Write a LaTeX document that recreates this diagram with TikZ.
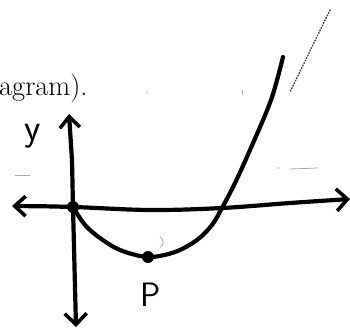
\documentclass[tikz,border=0pt]{standalone}
\usetikzlibrary{arrows.meta}
\begin{document}
\begin{tikzpicture}[x=1bp,y=-1bp,
  ink/.style={line width=4.2bp,line cap=round,line join=round},
  dbarb/.style={{Straight Barb[length=11bp,width=20bp,line width=3.6bp]}-{Straight Barb[length=11bp,width=22bp,line width=3.6bp]}},
  noise/.style={gray!70,line width=0.8bp,line cap=round},
  dotmark/.style={circle,fill=black,inner sep=0pt,minimum size=12bp},
  hand/.style={font=\sffamily\fontsize{38}{40}\selectfont,inner sep=0pt}]
\useasboundingbox (0,0) rectangle (350,331);
% printed text (cut at left edge)
\node[anchor=base west,inner sep=0pt,font=\fontsize{28.5}{32}\selectfont] (txt) at (-1,95) {agram).};
% coordinates
\coordinate (O) at (73,207);
\coordinate (ytop) at (69,114);
\coordinate (ybot) at (76,327);
\coordinate (xleft) at (12,206);
\coordinate (xright) at (350,199);
\coordinate (root) at (222,208);
\coordinate (top) at (283,57);
% y-axis
\draw[ink,dbarb] (ytop) -- (72,160) -- (O) -- (ybot);
% x-axis
\draw[ink,dbarb] plot[smooth,tension=0.6] coordinates {(xleft) (O) (150,210) (root) (290,203) (xright)};
% parabola
\draw[ink] plot[smooth,tension=0.55] coordinates {(O) (85,225) (100,238) (120,250) (148,257) (175,252) (197,240) (212,225) (root) (235,183) (250,150) (271,100) (top)};
% dots
\node[dotmark] (Odot) at (O) {};
\node[dotmark] (Pdot) at (148,257) {};
% labels
\node[hand] (ylab) at (33,136) {y};
\node[hand,font=\sffamily\fontsize{34}{36}\selectfont] (plab) at (151,295) {P};
% faint scan marks
\draw[noise,gray!40!black,dotted,line width=1.4bp] (330,10) -- (290,92);
\draw[noise] (242,90) -- (243,95);
\draw[noise] (147,92) -- (147.5,93);
\draw[noise] (277,168) -- (280,168) (290,169) -- (318,168);
\draw[noise] (160,237) arc[start angle=-60,end angle=60,radius=6];
\draw[noise] (15,175) -- (30,175);
\end{tikzpicture}
\end{document}
